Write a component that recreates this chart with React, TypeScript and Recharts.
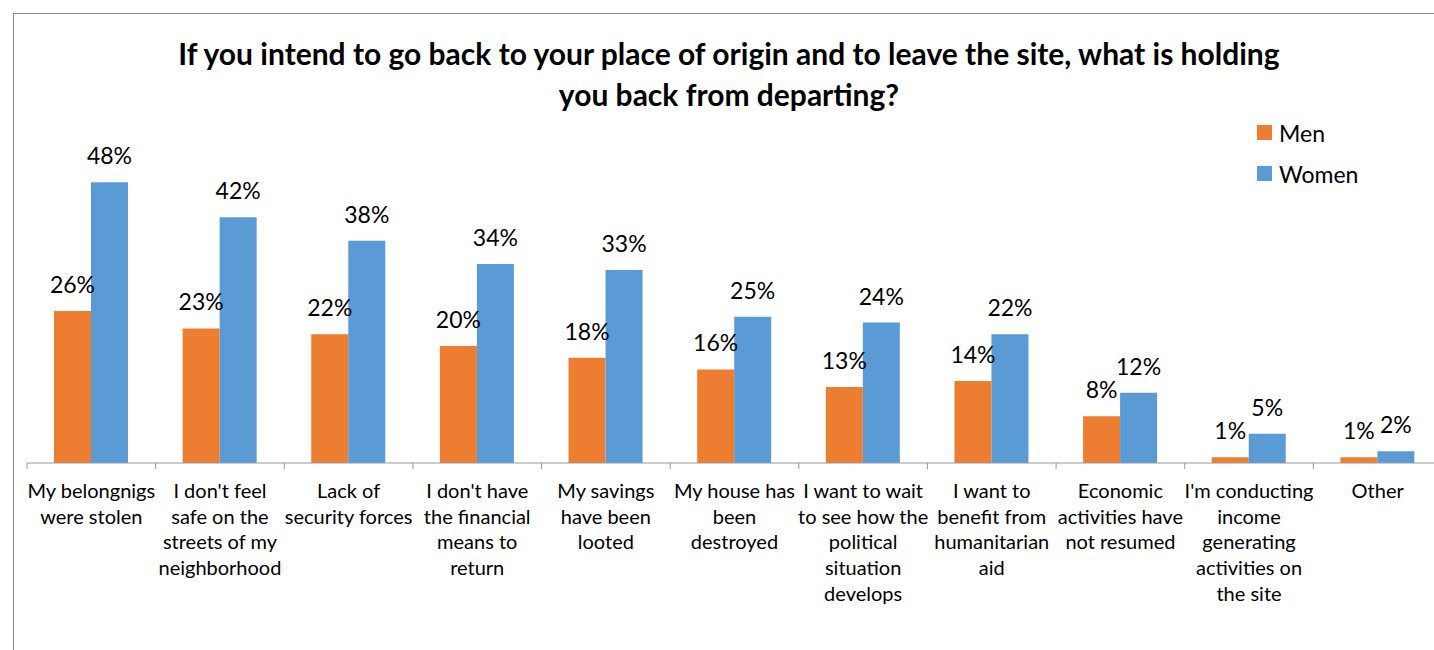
import { BarChart, Bar, XAxis, YAxis, LabelList } from 'recharts'

const categories = [
  'My belongnigs\nwere stolen',
  "I don't feel\nsafe on the\nstreets of my\nneighborhood",
  'Lack of\nsecurity forces',
  "I don't have\nthe financial\nmeans to\nreturn",
  'My savings\nhave been\nlooted',
  'My house has\nbeen\ndestroyed',
  'I want to wait\nto see how the\npolitical\nsituation\ndevelops',
  'I want to\nbenefit from\nhumanitarian\naid',
  'Economic\nactivities have\nnot resumed',
  "I'm conducting\nincome\ngenerating\nactivities on\nthe site",
  'Other',
]
const men = [26, 23, 22, 20, 18, 16, 13, 14, 8, 1, 1]
const women = [48, 42, 38, 34, 33, 25, 24, 22, 12, 5, 2]

const seriesInfo = [
  { key: 'men', label: 'Men', color: '#ED7D31' },
  { key: 'women', label: 'Women', color: '#5B9BD5' },
]

const data = categories.map((name, i) => ({ name, men: men[i], women: women[i] }))

const FONT = 'Lato, "Open Sans", sans-serif'
const CHART_W = 1460
const CHART_H = 650
const MARGIN = { top: 112, right: 18, bottom: 7, left: 27 }
const PLOT_BOTTOM = CHART_H - MARGIN.bottom - 180
const BAND = (CHART_W - MARGIN.left - MARGIN.right) / categories.length
const AXIS_COLOR = '#999999'

// category label with the tick marks drawn at the band edges, Excel style
function CategoryTick({ x, payload, index }: any) {
  const lines = String(payload.value).split('\n')
  return (
    <g>
      <line x1={x - BAND / 2} x2={x - BAND / 2} y1={PLOT_BOTTOM} y2={PLOT_BOTTOM + 6} stroke={AXIS_COLOR} />
      {index === categories.length - 1 && (
        <line x1={x + BAND / 2} x2={x + BAND / 2} y1={PLOT_BOTTOM} y2={PLOT_BOTTOM + 6} stroke={AXIS_COLOR} />
      )}
      <text x={x} y={PLOT_BOTTOM + 35} textAnchor="middle" fill="#000" fontSize={20} fontFamily={FONT}>
        {lines.map((l, i) => (
          <tspan key={i} x={x} dy={i === 0 ? 0 : 25.7}>
            {l}
          </tspan>
        ))}
      </text>
    </g>
  )
}

export default function App() {
  return (
    <div style={{ position: 'absolute', left: 0, top: 0, width: 1434, height: 650, overflow: 'hidden', background: '#fff' }}>
      <div
        style={{
          position: 'absolute',
          left: 13,
          top: 13,
          width: 1500,
          height: 700,
          borderLeft: '1px solid #8c8c8c',
          borderTop: '1px solid #8c8c8c',
        }}
      />
      <div
        style={{
          position: 'absolute',
          left: 0,
          width: 1458,
          top: 33,
          textAlign: 'center',
          fontFamily: FONT,
          fontWeight: 'bold',
          fontSize: 30,
          lineHeight: '41px',
          color: '#000',
        }}
      >
        If you intend to go back to your place of origin and to leave the site, what is holding
        <br />
        you back from departing?
      </div>
      <div style={{ position: 'absolute', left: 1257, top: 112 }}>
        {seriesInfo.map((it) => (
          <div key={it.key} style={{ display: 'flex', alignItems: 'center', height: 41, fontFamily: FONT, fontSize: 23 }}>
            <span style={{ width: 15, height: 15, background: it.color, marginRight: 7, display: 'inline-block' }} />
            <span>{it.label}</span>
          </div>
        ))}
      </div>
      <div style={{ position: 'absolute', left: 0, top: 0 }}>
        <BarChart width={CHART_W} height={CHART_H} data={data} margin={MARGIN} barGap={0}>
          <XAxis
            dataKey="name"
            interval={0}
            height={180}
            tickLine={false}
            axisLine={{ stroke: AXIS_COLOR }}
            tick={<CategoryTick />}
          />
          <YAxis hide domain={[0, 60]} />
          {seriesInfo.map((s) => (
            <Bar key={s.key} dataKey={s.key} name={s.label} fill={s.color} barSize={37} isAnimationActive={false}>
              <LabelList
                dataKey={s.key}
                position="top"
                offset={18}
                formatter={(v: any) => `${v}%`}
                fill="#000"
                fontSize={23}
                fontFamily={FONT}
              />
            </Bar>
          ))}
        </BarChart>
      </div>
    </div>
  )
}
